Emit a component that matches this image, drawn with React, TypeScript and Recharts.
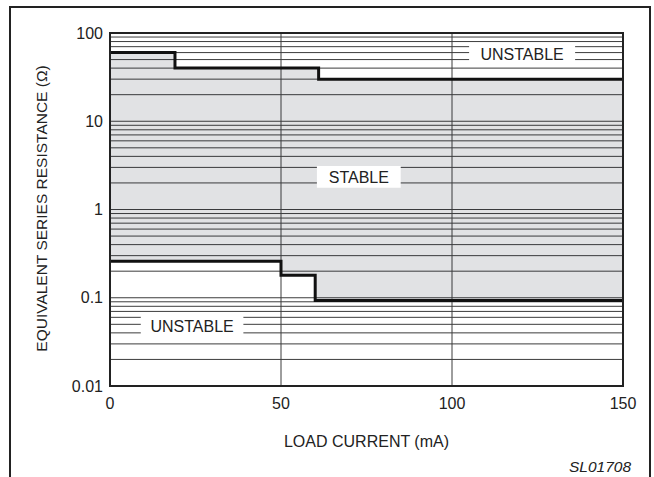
import React from 'react'
import {
  ComposedChart,
  Area,
  Line,
  XAxis,
  YAxis,
  ReferenceLine,
  ReferenceArea,
} from 'recharts'

// load current breakpoints (mA) and ESR limits of the stable zone (ohm)
const loadCurrent = [0, 19, 50, 60, 61, 150]
const esrUpper = [60, 40, 40, 40, 30, 30]
const esrLower = [0.26, 0.26, 0.18, 0.093, 0.093, 0.093]

const xTicks = [0, 50, 100, 150]
const yTicks = [0.01, 0.1, 1, 10, 100]
const xGrid = [50, 100]
const yGrid = [
  0.02, 0.03, 0.04, 0.05, 0.06, 0.07, 0.08, 0.09,
  0.1, 0.2, 0.3, 0.4, 0.5, 0.6, 0.7, 0.8, 0.9,
  1, 2, 3, 4, 5, 6, 7, 8, 9,
  10, 20, 30, 40, 50, 60, 70, 80, 90,
]

const data = loadCurrent.map((ma, i) => ({
  ma,
  upper: esrUpper[i],
  lower: esrLower[i],
  band: [esrLower[i], esrUpper[i]],
}))

const font = "'Liberation Sans', Arial, Helvetica, sans-serif"
const ink = '#222'
const grid = '#3c3c3c'
const fs = 16

const boxLabel = (value: string) => ({
  value,
  position: 'center' as const,
  fill: ink,
  fontSize: fs,
  fontFamily: font,
})

export default function App() {
  const boxProps: any = {
    fill: '#fff',
    fillOpacity: 1,
    stroke: 'none',
    zIndex: 450,
  }
  const gridProps: any = { stroke: grid, strokeWidth: 1, zIndex: 50 }
  return (
    <div
      style={{
        position: 'absolute',
        left: 0,
        top: 0,
        width: 654,
        height: 477,
        background: '#fff',
        overflow: 'hidden',
        fontFamily: font,
      }}
    >
      <div
        style={{
          position: 'absolute',
          left: 9,
          top: 6,
          width: 638,
          height: 520,
          border: `2px solid ${ink}`,
          borderBottom: 'none',
        }}
      />
      <div style={{ position: 'absolute', left: 0, top: 0 }}>
        <ComposedChart
          width={654}
          height={477}
          data={data}
          margin={{ top: 33, right: 31, bottom: 0, left: 0 }}
          style={{ fontFamily: font }}
        >
          <XAxis
            type="number"
            dataKey="ma"
            domain={[0, 150]}
            ticks={xTicks}
            height={91}
            tickLine={false}
            axisLine={false}
            tickMargin={6}
            tick={{ fontSize: fs, fill: ink }}
            label={{
              value: 'LOAD CURRENT (mA)',
              position: 'insideTop',
              offset: 50,
              fontSize: fs,
              fill: ink,
            }}
          />
          <YAxis
            type="number"
            scale="log"
            domain={[0.01, 100]}
            ticks={yTicks}
            allowDataOverflow
            width={110}
            tickLine={false}
            axisLine={false}
            tickMargin={1}
            tick={{ fontSize: fs, fill: ink }}
            label={{
              value: 'EQUIVALENT SERIES RESISTANCE (Ω)',
              content: (props: any) => {
                const vb = props.viewBox || { x: 0, y: 33, height: 353 }
                const cx = vb.x + 41
                const cy = vb.y + vb.height / 2 - 1
                return (
                  <text
                    x={cx}
                    y={cy}
                    transform={`rotate(-90, ${cx}, ${cy})`}
                    textAnchor="middle"
                    dominantBaseline="central"
                    fontSize={15.5}
                    fill={ink}
                  >
                    EQUIVALENT SERIES RESISTANCE (Ω)
                  </text>
                )
              },
            }}
          />
          {yGrid.map((v) => (
            <ReferenceLine key={`h${v}`} y={v} {...gridProps} />
          ))}
          {xGrid.map((v) => (
            <ReferenceLine key={`v${v}`} x={v} {...gridProps} />
          ))}
          <Area
            type="stepAfter"
            dataKey="band"
            stroke="none"
            fill="#2e3440"
            fillOpacity={0.14}
            isAnimationActive={false}
          />
          <Line
            type="stepAfter"
            dataKey="upper"
            stroke="#111"
            strokeWidth={3}
            dot={false}
            activeDot={false}
            isAnimationActive={false}
          />
          <Line
            type="stepAfter"
            dataKey="lower"
            stroke="#111"
            strokeWidth={3}
            dot={false}
            activeDot={false}
            isAnimationActive={false}
          />
          <ReferenceArea
            x1={105}
            x2={136}
            y1={42}
            y2={77}
            {...boxProps}
            label={boxLabel('UNSTABLE')}
          />
          <ReferenceArea
            x1={60.5}
            x2={85}
            y1={1.76}
            y2={3.12}
            {...boxProps}
            label={boxLabel('STABLE')}
          />
          <ReferenceArea
            x1={9}
            x2={39}
            y1={0.036}
            y2={0.064}
            {...boxProps}
            label={boxLabel('UNSTABLE')}
          />
          <ReferenceArea
            x1={0}
            x2={150}
            y1={0.01}
            y2={100}
            fill="none"
            stroke={ink}
            strokeWidth={2}
            {...({ zIndex: 500 } as any)}
          />
        </ComposedChart>
      </div>
      <div
        style={{
          position: 'absolute',
          right: 23,
          top: 457,
          fontSize: 15.5,
          fontStyle: 'italic',
          color: ink,
          lineHeight: '20px',
        }}
      >
        SL01708
      </div>
    </div>
  )
}
